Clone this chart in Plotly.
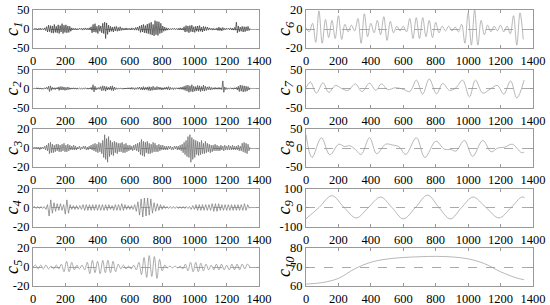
import numpy as np
import plotly.graph_objects as go
from plotly.subplots import make_subplots

# x tick labels shared by all panels
x_ticks = [0, 200, 400, 600, 800, 1000, 1200, 1400]

# high frequency components, one value every 6 samples
c1_step = 6
c1 = [1,-2,2,-1,1,-2,2,-1,2,-1,
      1,-2,3,-4,6,-8,10,-7,9,-10,
      8,-11,12,-9,7,-10,11,-12,9,-8,
      14,-12,10,-9,11,-10,8,-9,7,-6,
      3,-2,2,-1,2,-2,1,-2,2,-1,
      2,-3,2,-2,3,-2,2,-1,3,-2,
      6,-10,12,-8,14,-9,7,-12,10,-6,
      8,-10,15,-12,18,-25,16,-14,10,-8,
      7,-6,5,-8,6,-5,7,-6,4,-5,
      6,-4,3,-3,2,-2,3,-2,2,-1,
      2,-2,3,-2,2,-3,4,-3,5,-4,
      8,-9,10,-8,12,-10,9,-11,13,-12,
      15,-14,18,-16,12,-18,22,-15,20,-17,
      19,-12,15,-10,8,-6,5,-4,3,-3,
      2,-2,1,-2,2,-1,2,-2,1,-1,
      2,-2,3,-2,2,-3,6,-8,9,-7,
      8,-10,9,-7,10,-8,6,-9,7,-6,
      8,-7,9,-6,5,-8,7,-5,6,-4,
      5,-3,3,-2,2,-3,2,-2,1,-2,
      3,-4,5,-4,3,-5,4,-3,2,-2,
      2,-1,2,-2,3,-2,2,-3,4,-3,
      18,-10,8,-7,5,-6,7,-8,6,-7,
      6,-5,7,-4,2]

c2 = [1,-1,1,-1,2,-1,1,-1,1,-2,
      1,-2,2,-1,3,-2,6,-8,7,-5,
      3,-2,2,-3,2,-1,4,-5,5,-4,
      5,-4,4,-5,3,-4,4,-3,2,-2,
      1,-1,2,-1,1,-2,1,-1,1,-1,
      1,-2,1,-1,2,-1,1,-2,1,-1,
      3,-4,10,-9,6,-4,2,-2,3,-2,
      5,-6,7,-5,6,-7,5,-4,3,-3,
      6,-5,7,-6,4,-3,2,-2,1,-1,
      1,-1,1,-2,1,-1,1,-1,2,-1,
      2,-2,3,-2,2,-3,2,-2,3,-2,
      4,-3,3,-4,5,-4,3,-3,4,-5,
      5,-6,4,-5,6,-4,3,-4,5,-3,
      4,-3,3,-4,2,-3,3,-2,4,-3,
      5,-4,3,-2,2,-3,2,-2,2,-1,
      2,-2,3,-2,4,-3,6,-5,8,-7,
      9,-10,7,-8,10,-9,6,-7,5,-6,
      8,-6,7,-8,5,-6,9,-7,6,-5,
      4,-3,5,-4,3,-3,2,-2,3,-2,
      2,-2,3,-2,2,-3,20,-10,4,-3,
      2,-2,1,-1,2,-1,1,-2,2,-1,
      3,-4,6,-8,9,-7,8,-9,7,-8,
      6,-7,5,-4,2]

c3 = [1,-1,1,-1,1,-1,1,-2,1,-1,
      1,-1,2,-2,3,-3,5,-6,6,-5,
      4,-5,3,-4,4,-3,4,-4,3,-4,
      4,-3,5,-4,3,-4,4,-3,3,-2,
      2,-2,3,-2,2,-2,1,-1,2,-2,
      1,-1,2,-1,2,-2,1,-2,2,-1,
      3,-2,4,-3,5,-4,4,-5,6,-4,
      5,-6,8,-10,14,-12,10,-15,12,-9,
      8,-7,6,-8,7,-5,6,-6,5,-4,
      5,-4,6,-5,4,-5,5,-4,3,-3,
      3,-2,2,-3,3,-2,4,-3,5,-4,
      6,-7,9,-8,7,-9,6,-5,7,-6,
      5,-6,4,-5,6,-4,5,-4,3,-4,
      4,-3,3,-2,3,-2,2,-2,2,-2,
      2,-1,2,-2,1,-2,2,-1,2,-2,
      2,-2,3,-3,4,-5,6,-7,8,-9,
      12,-10,14,-15,11,-12,9,-10,8,-7,
      7,-8,6,-7,8,-6,5,-6,7,-5,
      5,-4,4,-5,3,-4,3,-3,4,-3,
      3,-3,2,-3,3,-2,2,-3,3,-2,
      2,-2,3,-2,2,-2,3,-2,2,-2,
      2,-2,3,-3,2,-3,5,-4,6,-5,
      5,-6,4,-3,1]

# one value every 10 samples
c4_step = 10
c4 = [0,1,-1,1,-1,1,-1,1,-2,3,
      -9,8,-6,5,-4,4,-3,4,-3,3,
      -7,8,-6,3,-2,2,-2,2,-2,2,
      -2,3,-3,3,-3,3,-3,3,-3,3,
      -3,3,-3,3,-3,3,-3,3,-2,2,
      -3,3,-3,3,-3,4,-3,3,-2,2,
      -2,2,-2,3,-4,6,-8,9,-10,10,
      -9,10,-8,9,-6,5,-4,4,-3,3,
      -2,2,-1,1,-1,1,-1,1,-1,1,
      -1,1,-1,1,-1,1,-1,1,-2,2,
      -2,3,-3,3,-3,3,-3,3,-3,3,
      -3,4,-4,4,-4,4,-3,3,-3,3,
      -3,3,-3,3,-3,3,-3,3,-3,3,
      -3,4,-3,3,-1]

# one value every 16 samples
c5_step = 16
c5 = [0,2,-2,2,-2,2,-2,1,-2,2,
      -2,3,-5,6,-5,5,-3,2,-2,2,
      -3,5,-7,7,-6,6,-7,7,-6,7,
      -6,6,-5,3,-2,2,-2,1,-2,2,
      -3,5,-8,10,-11,12,-10,11,-12,8,
      -4,2,-1,1,-1,1,-1,1,-2,3,
      -4,5,-5,5,-5,4,-4,3,-3,2,
      -3,3,-3,3,-3,2,-3,3,-3,3,
      -3,3,-2,3,0]

# one value every 20 samples
c6_step = 20
c6 = [1,-3,6,-14,19,-15,10,-9,9,-10,
      14,-11,5,-3,4,-2,11,-15,16,-8,
      6,-4,9,-6,13,-12,8,-4,3,-2,
      3,-3,11,-10,12,-10,12,-8,9,-9,
      7,-4,3,-2,3,-2,2,-3,5,-15,
      17,-17,20,-17,9,-6,4,-3,3,-2,
      4,-3,3,-5,14,-17,17,-11]

# low frequency components, turning points
c7_x = [0,27,64,105,140,182,220,258,305,345,392,430,465,505,550,600,640,681,719,760,
        805,843,885,925,966,1008,1045,1090,1135,1180,1220,1262,1300,1345]
c7 = [2,17,-12,15,-10,8,0,-5,12,-8,14,-5,12,-3,2,-2,-8,22,-15,25,
      -14,13,-5,2,22,-22,22,-12,-2,8,-15,20,-25,22]

c8_x = [0,37,95,147,202,237,270,305,340,392,436,491,533,574,615,681,733,801,853,894,
        925,977,1028,1090,1142,1183,1225,1272,1328,1345]
c8 = [35,-25,27,-18,10,4,6,-4,-17,27,-15,10,8,3,-17,27,-25,18,-3,-4,
      -8,20,-22,20,-10,0,2,10,-12,-11]

c9_x = [0,80,160,235,310,385,460,530,600,675,750,820,890,960,1030,1110,1190,1265,1330,1348]
c9 = [-60,0,62,0,-55,0,55,0,-60,0,65,0,-60,0,55,0,-55,0,55,52]

c10_x = [0,100,200,300,400,500,600,700,800,900,1000,1100,1200,1300,1345]
c10 = [61,61.8,64,69,72.5,74.2,75,75.4,75.6,75.3,74.3,71.8,67.5,64.2,63.3]

panels = [
    (np.arange(len(c1)) * c1_step, c1, [-50, 0, 50], 'linear', '#333'),
    (np.arange(len(c2)) * c1_step, c2, [-50, 0, 50], 'linear', '#444'),
    (np.arange(len(c3)) * c1_step, c3, [-20, 0, 20], 'linear', '#666'),
    (np.arange(len(c4)) * c4_step, c4, [-20, 0, 20], 'linear', '#777'),
    (np.arange(len(c5)) * c5_step, c5, [-20, 0, 20], 'spline', '#888'),
    (np.arange(len(c6)) * c6_step, c6, [-20, 0, 20], 'spline', '#999'),
    (c7_x, c7, [-50, 0, 50], 'spline', '#999'),
    (c8_x, c8, [-50, 0, 50], 'spline', '#999'),
    (c9_x, c9, [-100, 0, 100], 'spline', '#999'),
    (c10_x, c10, [60, 70, 80], 'spline', '#999'),
]

W, H = 550, 305
fig = make_subplots(rows=5, cols=2)
font = 'Liberation Serif'

for i, (xs, ys, yt, shape, color) in enumerate(panels):
    col = i // 5
    row = i % 5
    n = i + 1
    fig.add_trace(go.Scatter(x=xs, y=ys, mode='lines',
                             line=dict(color=color, width=0.7, shape=shape),
                             showlegend=False),
                  row=row + 1, col=col + 1)
    top = 10 + 59.5 * row
    bot = top + 38
    if col == 0:
        xd = [33 / W, 259 / W]
        tx = 13 / W
    else:
        xd = [306 / W, 533 / W]
        tx = 285 / W
    yd = [1 - bot / H, 1 - top / H]
    k = row * 2 + col + 1
    ax = '' if k == 1 else str(k)
    fig.layout['xaxis' + ax].update(
        domain=xd, range=[0, 1400], tickvals=x_ticks,
        showline=True, mirror='ticks', linecolor='#999', linewidth=1,
        ticks='inside', ticklen=3, tickcolor='#999', showgrid=False, zeroline=False,
        ticklabelstandoff=1, ticklabeloverflow='allow',
        tickfont=dict(family=font, size=12.5, color='black'), automargin=False)
    fig.layout['yaxis' + ax].update(
        domain=yd, range=[yt[0], yt[2]], tickvals=yt, ticktext=[str(v) for v in yt],
        showline=True, mirror='ticks', linecolor='#999', linewidth=1,
        ticks='inside', ticklen=3, tickcolor='#999', ticklabeloverflow='allow',
        showgrid=True, gridcolor='#aaa', griddash='dash', gridwidth=0.7, zeroline=False,
        tickfont=dict(family=font, size=12.5, color='black'), automargin=False)
    # y axis name, placed by hand so it is not pushed onto the tick labels
    fig.add_annotation(text=f'<i>c<sub>{n}</sub></i>', xref='paper', yref='paper',
                       x=tx, y=(yd[0] + yd[1]) / 2, xanchor='center', yanchor='middle',
                       textangle=-90, showarrow=False,
                       font=dict(family=font, size=18, color='black'))

fig.update_layout(width=W, height=H, margin=dict(l=0, r=0, t=0, b=0),
                  paper_bgcolor='white', plot_bgcolor='white')
# drop the default page margin so the 550x305 figure fills the window
fig.write_html("out.html", config={'displayModeBar': False},
               post_script="document.body.style.margin='0';")
